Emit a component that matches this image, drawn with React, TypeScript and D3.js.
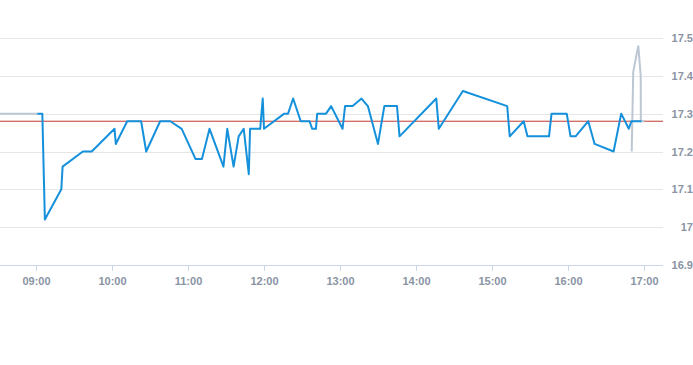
import React from "react";
import * as d3 from "d3";

const W = 693;
const H = 365;

// Blue price series: time "HH:MM" and price
const priceTimes = [
  "09:01", "09:05", "09:07", "09:20", "09:21", "09:37", "09:44", "10:02", "10:03", "10:12",
  "10:23", "10:27", "10:38", "10:46", "10:55", "11:06", "11:11", "11:17", "11:28", "11:31",
  "11:36", "11:40", "11:44", "11:48", "11:49", "11:57", "11:59", "12:00", "12:16", "12:19",
  "12:23", "12:29", "12:36", "12:38", "12:41", "12:42", "12:49", "12:53", "13:02", "13:04",
  "13:10", "13:17", "13:22", "13:30", "13:35", "13:45", "13:47", "14:16", "14:18", "14:37",
  "15:12", "15:14", "15:25", "15:28", "15:45", "15:47", "15:59", "16:02", "16:06", "16:16",
  "16:21", "16:36", "16:42", "16:48", "16:50", "16:58",
];
const priceValues = [
  17.30, 17.30, 17.02, 17.10, 17.16, 17.20, 17.20, 17.26, 17.22, 17.28,
  17.28, 17.20, 17.28, 17.28, 17.26, 17.18, 17.18, 17.26, 17.16, 17.26,
  17.16, 17.24, 17.26, 17.14, 17.26, 17.26, 17.34, 17.26, 17.30, 17.30,
  17.34, 17.28, 17.28, 17.26, 17.26, 17.30, 17.30, 17.32, 17.26, 17.32,
  17.32, 17.34, 17.32, 17.22, 17.32, 17.32, 17.24, 17.34, 17.26, 17.36,
  17.32, 17.24, 17.28, 17.24, 17.24, 17.30, 17.30, 17.24, 17.24, 17.28,
  17.22, 17.20, 17.30, 17.26, 17.28, 17.28,
];

// Gray auction series (pre-open and closing)
const preTimes = ["08:30", "09:01"];
const preValues = [17.30, 17.30];
const closeTimes = ["16:50.3", "16:51.5", "16:55.5", "16:57.4", "16:57.5", "17:00.5"];
const closeValues = [17.20, 17.41, 17.48, 17.40, 17.28, 17.28];

const prevClose = 17.28;
const yTicks = [16.9, 17.0, 17.1, 17.2, 17.3, 17.4, 17.5];
const yTickLabels = ["16.9", "17", "17.1", "17.2", "17.3", "17.4", "17.5"];
const xTickLabels = ["09:00", "10:00", "11:00", "12:00", "13:00", "14:00", "15:00", "16:00", "17:00"];

const toMin = (s: string) => {
  const [h, m] = s.split(":");
  return +h * 60 + parseFloat(m);
};

export default function App() {
  const plotLeft = 0;
  const plotRight = 663;
  const x = d3.scaleLinear().domain([toMin("08:30"), toMin("17:15")]).range([-2, 663]);
  const y = d3.scaleLinear().domain([16.9, 17.5]).range([265, 38]);

  const line = d3
    .line<[number, number]>()
    .x((d) => x(d[0]))
    .y((d) => y(d[1]));

  const priceData: [number, number][] = priceTimes.map((t, i) => [toMin(t), priceValues[i]]);
  const preData: [number, number][] = preTimes.map((t, i) => [toMin(t), preValues[i]]);
  const closeData: [number, number][] = closeTimes.map((t, i) => [toMin(t), closeValues[i]]);

  const labelColor = "#8a94a3";
  const font = "'Liberation Sans', Arial, sans-serif";

  return (
    <svg
      width={W}
      height={H}
      style={{ position: "fixed", left: 0, top: 0, background: "#fff" }}
    >
      <defs>
        <clipPath id="plot">
          <rect x={plotLeft} y={0} width={plotRight - plotLeft} height={H} />
        </clipPath>
      </defs>
      {yTicks.slice(1).map((v) => (
        <line
          key={v}
          x1={plotLeft}
          x2={plotRight}
          y1={Math.round(y(v)) + 0.5}
          y2={Math.round(y(v)) + 0.5}
          stroke="#e6e6e6"
          strokeWidth={1}
        />
      ))}
      <line x1={plotLeft} x2={plotRight} y1={265.5} y2={265.5} stroke="#ccd6eb" strokeWidth={1} />
      {xTickLabels.map((t) => {
        const xx = Math.round(x(toMin(t))) + 0.5;
        return (
          <g key={t}>
            <line x1={xx} x2={xx} y1={265} y2={271} stroke="#ccd6eb" strokeWidth={1} />
            <text
              x={xx}
              y={285}
              textAnchor="middle"
              fontFamily={font}
              fontSize={11}
              fontWeight="bold"
              fill={labelColor}
            >
              {t}
            </text>
          </g>
        );
      })}
      {yTicks.map((v, i) => (
        <text
          key={v}
          x={693}
          y={y(v) + 4}
          textAnchor="end"
          fontFamily={font}
          fontSize={11}
          fontWeight="bold"
          fill={labelColor}
        >
          {yTickLabels[i]}
        </text>
      ))}
      <g clipPath="url(#plot)">
        <line
          x1={plotLeft}
          x2={plotRight}
          y1={y(prevClose)}
          y2={y(prevClose)}
          stroke="#c0392b"
          strokeWidth={1}
        />
        <path d={line(preData) || ""} fill="none" stroke="#bcc7d3" strokeWidth={2} />
        <path d={line(closeData) || ""} fill="none" stroke="#bcc7d3" strokeWidth={2} />
        <path
          d={line(priceData) || ""}
          fill="none"
          stroke="#1591dc"
          strokeWidth={2}
          strokeLinejoin="round"
        />
      </g>
    </svg>
  );
}
